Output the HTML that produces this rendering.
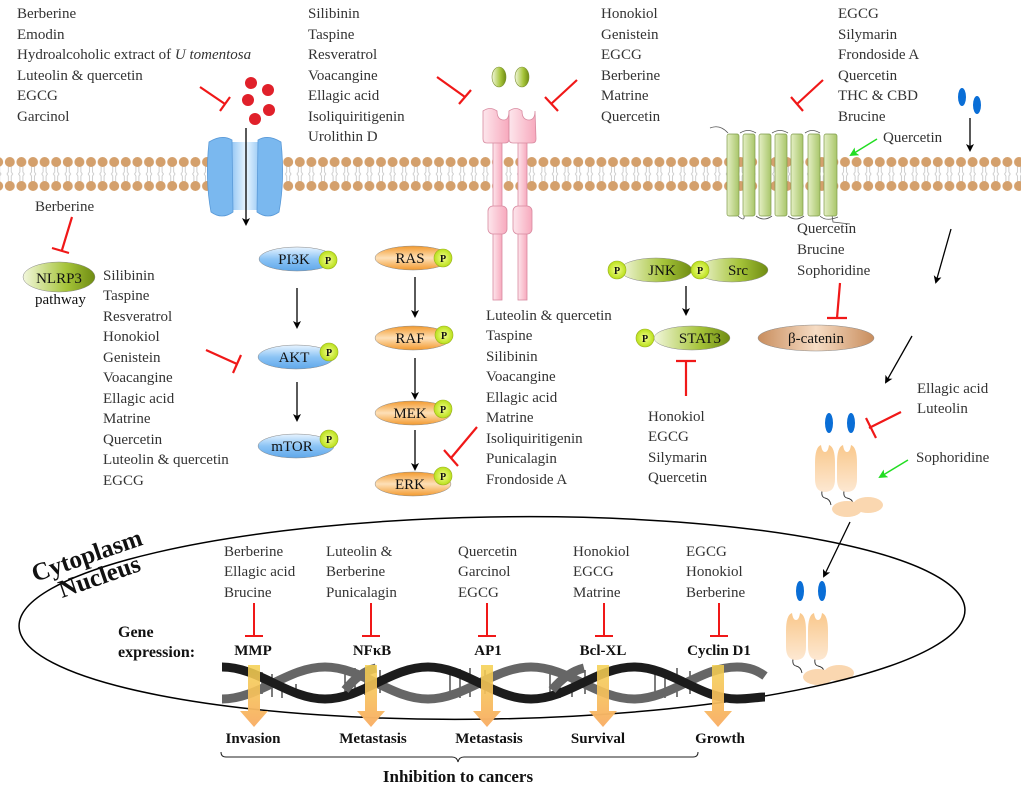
<!DOCTYPE html>
<html><head><meta charset="utf-8"><style>
html,body{margin:0;padding:0;background:#fff;}
svg{display:block;}
.t{font-family:"Liberation Serif",serif;font-size:15px;fill:#333;}
.b{font-family:"Liberation Serif",serif;font-weight:bold;fill:#111;}
.lab{font-family:"Liberation Serif",serif;font-size:15px;fill:#111;}
.p{font-family:"Liberation Serif",serif;font-size:10px;fill:#111;font-weight:bold;}
</style></head><body>
<svg width="1021" height="791" viewBox="0 0 1021 791" xmlns="http://www.w3.org/2000/svg">
<defs>
<pattern id="mem" x="4" y="150" width="11.6" height="46" patternUnits="userSpaceOnUse">
  <path d="M4.3 14 L4.3 22 L3 24 L4.3 26 L4.3 32 M7.3 14 L7.3 22 L8.6 24 L7.3 26 L7.3 32" stroke="#c9c9c9" stroke-width="0.9" fill="none"/>
  <circle cx="5.8" cy="12" r="5" fill="#d4a06c"/>
  <circle cx="5.8" cy="36" r="5" fill="#d4a06c"/>
</pattern>
<linearGradient id="blue" x1="0" x2="0" y1="0" y2="1"><stop offset="0" stop-color="#e8f4ff"/><stop offset="0.5" stop-color="#8cc4f5"/><stop offset="1" stop-color="#5fa7ea"/></linearGradient>
<linearGradient id="chan" x1="0" x2="1"><stop offset="0" stop-color="#6fb2ef"/><stop offset="0.5" stop-color="#e8f5ff"/><stop offset="1" stop-color="#6fb2ef"/></linearGradient>
<linearGradient id="orange" x1="0" x2="0" y1="0" y2="1"><stop offset="0" stop-color="#f39a2e"/><stop offset="0.5" stop-color="#fde0b8"/><stop offset="1" stop-color="#f39a2e"/></linearGradient>
<linearGradient id="green" x1="0" x2="1"><stop offset="0" stop-color="#f2f7dc"/><stop offset="0.6" stop-color="#a6c43a"/><stop offset="1" stop-color="#6f8c12"/></linearGradient>
<radialGradient id="pg"><stop offset="0" stop-color="#f5ff90"/><stop offset="1" stop-color="#b9e01a"/></radialGradient>
<linearGradient id="brown" x1="0" x2="1"><stop offset="0" stop-color="#c88d5d"/><stop offset="0.5" stop-color="#f6dcc4"/><stop offset="1" stop-color="#c88d5d"/></linearGradient>
<linearGradient id="pink" x1="0" x2="1"><stop offset="0" stop-color="#fde6ec"/><stop offset="1" stop-color="#f7a9bd"/></linearGradient>
<linearGradient id="cyl" x1="0" x2="1"><stop offset="0" stop-color="#e4efc4"/><stop offset="1" stop-color="#a9c66a"/></linearGradient>
<linearGradient id="tan" x1="0" x2="0" y1="0" y2="1"><stop offset="0" stop-color="#f9c88c"/><stop offset="1" stop-color="#fde8d2"/></linearGradient>
<linearGradient id="yarr" x1="0" x2="0" y1="0" y2="1"><stop offset="0" stop-color="#f4d04f" stop-opacity="0.85"/><stop offset="1" stop-color="#f9b06a"/></linearGradient>
<marker id="ah" markerWidth="8" markerHeight="8" refX="6" refY="4" orient="auto" markerUnits="userSpaceOnUse"><path d="M0 0 L8 4 L0 8 L2 4z" fill="#000"/></marker>
<marker id="ag" markerWidth="9" markerHeight="9" refX="7" refY="4.5" orient="auto" markerUnits="userSpaceOnUse"><path d="M0 0 L9 4.5 L0 9 L2 4.5z" fill="#22dd22"/></marker>
<g id="rcp">
  <path d="M7 46 Q6 52 10 53 Q15 54 16 60 M29 46 Q28 52 32 53 Q37 54 38 58" stroke="#333" stroke-width="0.9" fill="none"/>
  <path d="M0 18 Q0 2 6 0 Q7 7 10 7 Q13 7 14 0 Q20 2 20 18 L20 34 Q20 47 10 47 Q0 47 0 34z" fill="url(#tan)"/>
  <path d="M22 18 Q22 2 28 0 Q29 7 32 7 Q35 7 36 0 Q42 2 42 18 L42 34 Q42 47 32 47 Q22 47 22 34z" fill="url(#tan)"/>
  <ellipse cx="53" cy="60" rx="15" ry="8" fill="#fad7b0"/>
  <ellipse cx="32" cy="64" rx="15" ry="8" fill="#fad7b0"/>
  <ellipse cx="14" cy="-22" rx="4" ry="10" fill="#0a6ed6"/>
  <ellipse cx="36" cy="-22" rx="4" ry="10" fill="#0a6ed6"/>
</g>
</defs>

<rect x="0" y="150" width="1021" height="46" fill="url(#mem)"/>

<g class="t">
<text x="17" y="18">Berberine</text><text x="17" y="39">Emodin</text>
<text x="17" y="59">Hydroalcoholic extract of <tspan font-style="italic">U tomentosa</tspan></text>
<text x="17" y="80">Luteolin &amp; quercetin</text><text x="17" y="100">EGCG</text><text x="17" y="121">Garcinol</text>
<text x="308" y="18">Silibinin</text><text x="308" y="39">Taspine</text><text x="308" y="59">Resveratrol</text><text x="308" y="80">Voacangine</text><text x="308" y="100">Ellagic acid</text><text x="308" y="121">Isoliquiritigenin</text><text x="308" y="141">Urolithin D</text>
<text x="601" y="18">Honokiol</text><text x="601" y="39">Genistein</text><text x="601" y="59">EGCG</text><text x="601" y="80">Berberine</text><text x="601" y="100">Matrine</text><text x="601" y="121">Quercetin</text>
<text x="838" y="18">EGCG</text><text x="838" y="39">Silymarin</text><text x="838" y="59">Frondoside A</text><text x="838" y="80">Quercetin</text><text x="838" y="100">THC &amp; CBD</text><text x="838" y="121">Brucine</text>
<text x="883" y="142">Quercetin</text>
<text x="35" y="211">Berberine</text>
<text x="103" y="280">Silibinin</text><text x="103" y="300">Taspine</text><text x="103" y="321">Resveratrol</text><text x="103" y="341">Honokiol</text><text x="103" y="362">Genistein</text><text x="103" y="382">Voacangine</text><text x="103" y="403">Ellagic acid</text><text x="103" y="423">Matrine</text><text x="103" y="444">Quercetin</text><text x="103" y="464">Luteolin &amp; quercetin</text><text x="103" y="485">EGCG</text>
<text x="486" y="320">Luteolin &amp; quercetin</text><text x="486" y="340">Taspine</text><text x="486" y="361">Silibinin</text><text x="486" y="381">Voacangine</text><text x="486" y="402">Ellagic acid</text><text x="486" y="422">Matrine</text><text x="486" y="443">Isoliquiritigenin</text><text x="486" y="463">Punicalagin</text><text x="486" y="484">Frondoside A</text>
<text x="797" y="233">Quercetin</text><text x="797" y="254">Brucine</text><text x="797" y="275">Sophoridine</text>
<text x="648" y="421">Honokiol</text><text x="648" y="441">EGCG</text><text x="648" y="462">Silymarin</text><text x="648" y="482">Quercetin</text>
<text x="917" y="393">Ellagic acid</text><text x="917" y="413">Luteolin</text>
<text x="916" y="462">Sophoridine</text>
</g>

<g fill="#e0202a"><circle cx="251" cy="83" r="6"/><circle cx="268" cy="90" r="6"/><circle cx="248" cy="100" r="6"/><circle cx="269" cy="110" r="6"/><circle cx="255" cy="119" r="6"/></g>

<rect x="225" y="142" width="42" height="68" fill="url(#chan)"/>
<path d="M209 142 Q222 134 232 140 L233 212 Q222 220 211 212 Q205 180 209 142z" fill="#7ab8ef" stroke="#5a9ad8" stroke-width="0.8"/>
<path d="M258 140 Q268 134 281 142 Q285 180 279 212 Q268 220 257 212z" fill="#7ab8ef" stroke="#5a9ad8" stroke-width="0.8"/>
<line x1="246" y1="128" x2="246" y2="224" stroke="#000" stroke-width="1.3" marker-end="url(#ah)"/>

<g fill="url(#pink)" stroke="#d88aa0" stroke-width="0.8">
<rect x="493" y="140" width="9" height="160"/><rect x="518" y="140" width="9" height="160"/>
<rect x="488" y="206" width="19" height="28" rx="5"/><rect x="513" y="206" width="19" height="28" rx="5"/>
<path d="M483 111 Q490 106 497 111 Q497 120 504 120 Q509 120 509 111 L509 139 Q509 143 505 143 L487 143 Q483 143 483 139z"/>
<path d="M509 111 Q516 106 522 111 Q522 120 529 120 Q535 120 535 111 L536 139 Q536 143 532 143 L513 143 Q509 143 509 139z"/>
</g>
<ellipse cx="499" cy="77" rx="7" ry="10" fill="url(#green)" stroke="#7a8f30" stroke-width="0.6"/>
<ellipse cx="522" cy="77" rx="7" ry="10" fill="url(#green)" stroke="#7a8f30" stroke-width="0.6"/>

<path d="M710 128 Q720 124 728 133" stroke="#555" fill="none" stroke-width="0.8"/>
<path d="M740 133 Q748 128 756 133 M772 133 Q780 128 788 133 M805 133 Q812 128 820 133 M738 216 Q745 222 744 216 M756 216 Q764 222 772 216 M788 216 Q796 222 804 216 M820 216 Q826 222 838 217" stroke="#555" fill="none" stroke-width="0.8"/>
<path d="M832 215 L833 222 L850 224" stroke="#555" fill="none" stroke-width="0.8"/>
<g fill="url(#cyl)" stroke="#7e9a4a" stroke-width="0.7">
<rect x="727" y="134" width="12" height="82" rx="2"/><rect x="743" y="134" width="12" height="82" rx="2"/><rect x="759" y="134" width="12" height="82" rx="2"/><rect x="775" y="134" width="12" height="82" rx="2"/><rect x="791" y="134" width="12" height="82" rx="2"/><rect x="808" y="134" width="12" height="82" rx="2"/><rect x="824" y="134" width="13" height="82" rx="2"/>
</g>
<line x1="877" y1="139" x2="851" y2="155" stroke="#22dd22" stroke-width="1.5" marker-end="url(#ag)"/>

<ellipse cx="962" cy="97" rx="4" ry="9" fill="#0a6ed6"/><ellipse cx="977" cy="105" rx="4" ry="9" fill="#0a6ed6"/>
<line x1="970" y1="118" x2="970" y2="150" stroke="#000" stroke-width="1.3" marker-end="url(#ah)"/>

<g stroke="#f01818" stroke-width="2.2" fill="none">
<path d="M200 87 L225 104 M220 111 L230 97"/>
<path d="M437 77 L465 97 M459 104 L471 90"/>
<path d="M577 80 L551 104 M545 97 L558 111"/>
<path d="M823 80 L797 104 M791 97 L803 111"/>
<path d="M72 217 L62 250 M52 248 L69 253"/>
<path d="M206 350 L237 364 M233 373 L241 355"/>
<path d="M477 427 L451 458 M444 450 L458 466"/>
<path d="M686 396 L686 361 M676 361 L696 361"/>
<path d="M840 283 L837 318 M827 318 L847 318"/>
<path d="M901 412 L869 428 M866 418 L876 438"/>
</g>

<ellipse cx="59" cy="277" rx="36" ry="15" fill="url(#green)" stroke="#888" stroke-width="0.5"/>
<text x="59" y="283" class="lab" text-anchor="middle" font-size="16">NLRP3</text>
<text x="35" y="304" class="lab" font-size="16">pathway</text>

<g stroke="#888" stroke-width="0.5">
<ellipse cx="297" cy="259" rx="38" ry="12" fill="url(#blue)"/><ellipse cx="296" cy="357" rx="38" ry="12" fill="url(#blue)"/><ellipse cx="296" cy="446" rx="38" ry="12" fill="url(#blue)"/>
<ellipse cx="413" cy="258" rx="38" ry="12" fill="url(#orange)"/><ellipse cx="413" cy="338" rx="38" ry="12" fill="url(#orange)"/><ellipse cx="413" cy="413" rx="38" ry="12" fill="url(#orange)"/><ellipse cx="413" cy="484" rx="38" ry="12" fill="url(#orange)"/>
<ellipse cx="656" cy="270" rx="36" ry="12" fill="url(#green)"/><ellipse cx="732" cy="270" rx="36" ry="12" fill="url(#green)"/><ellipse cx="692" cy="338" rx="38" ry="12" fill="url(#green)"/>
<ellipse cx="816" cy="338" rx="58" ry="13" fill="url(#brown)"/>
</g>
<g class="lab" text-anchor="middle">
<text x="294" y="264">PI3K</text><text x="294" y="362">AKT</text><text x="292" y="451">mTOR</text>
<text x="410" y="263">RAS</text><text x="410" y="343">RAF</text><text x="410" y="418">MEK</text><text x="410" y="489">ERK</text>
<text x="662" y="275">JNK</text><text x="738" y="275">Src</text><text x="700" y="343">STAT3</text>
<text x="816" y="343">β-catenin</text>
</g>
<g fill="url(#pg)" stroke="#9ab020" stroke-width="0.6">
<circle cx="328" cy="260" r="9"/><circle cx="329" cy="352" r="9"/><circle cx="329" cy="439" r="9"/>
<circle cx="443" cy="258" r="9"/><circle cx="444" cy="335" r="9"/><circle cx="443" cy="409" r="9"/><circle cx="443" cy="476" r="9"/>
<circle cx="617" cy="270" r="9"/><circle cx="700" cy="270" r="9"/><circle cx="645" cy="338" r="9"/>
</g>
<g class="p" text-anchor="middle">
<text x="328" y="264">P</text><text x="329" y="356">P</text><text x="329" y="443">P</text>
<text x="443" y="262">P</text><text x="444" y="339">P</text><text x="443" y="413">P</text><text x="443" y="480">P</text>
<text x="617" y="274">P</text><text x="700" y="274">P</text><text x="645" y="342">P</text>
</g>
<g stroke="#000" stroke-width="1.3" marker-end="url(#ah)">
<line x1="297" y1="288" x2="297" y2="327"/><line x1="297" y1="382" x2="297" y2="420"/>
<line x1="415" y1="277" x2="415" y2="316"/><line x1="415" y1="358" x2="415" y2="398"/><line x1="415" y1="430" x2="415" y2="469"/>
<line x1="686" y1="286" x2="686" y2="314"/>
<line x1="951" y1="229" x2="936" y2="282"/><line x1="912" y1="336" x2="886" y2="382"/><line x1="850" y1="522" x2="824" y2="576"/>
</g>

<use href="#rcp" x="815" y="445"/>
<line x1="908" y1="460" x2="880" y2="477" stroke="#22dd22" stroke-width="1.5" marker-end="url(#ag)"/>
<use href="#rcp" x="786" y="613"/>

<ellipse cx="492" cy="618" rx="473" ry="101" fill="none" stroke="#000" stroke-width="1.5" transform="rotate(-1 492 618)"/>
<text class="b" font-size="25" transform="translate(35 582) rotate(-19)">Cytoplasm</text>
<text class="b" font-size="25" transform="translate(62 598) rotate(-19)">Nucleus</text>
<text class="b" font-size="16" x="118" y="637">Gene</text>
<text class="b" font-size="16" x="118" y="657">expression:</text>

<g class="t">
<text x="224" y="556">Berberine</text><text x="224" y="576">Ellagic acid</text><text x="224" y="597">Brucine</text>
<text x="326" y="556">Luteolin &amp;</text><text x="326" y="576">Berberine</text><text x="326" y="597">Punicalagin</text>
<text x="458" y="556">Quercetin</text><text x="458" y="576">Garcinol</text><text x="458" y="597">EGCG</text>
<text x="573" y="556">Honokiol</text><text x="573" y="576">EGCG</text><text x="573" y="597">Matrine</text>
<text x="686" y="556">EGCG</text><text x="686" y="576">Honokiol</text><text x="686" y="597">Berberine</text>
</g>
<g stroke="#f01818" stroke-width="2" fill="none">
<path d="M254 603 L254 636 M245 636 L263 636"/><path d="M371 603 L371 636 M362 636 L380 636"/><path d="M487 603 L487 636 M478 636 L496 636"/><path d="M604 603 L604 636 M595 636 L613 636"/><path d="M719 603 L719 636 M710 636 L728 636"/>
</g>
<g class="b" font-size="15" text-anchor="middle">
<text x="253" y="655">MMP</text><text x="372" y="655">NFκB</text><text x="488" y="655">AP1</text><text x="603" y="655">Bcl-XL</text><text x="719" y="655">Cyclin D1</text>
</g>

<!-- DNA -->
<g stroke="#444" stroke-width="1.4">
<path d="M262 672 V694 M272 674 V697 M282 678 V698 M296 684 V696 M345 670 V696 M355 668 V697 M365 668 V695 M380 670 V693 M450 672 V696 M460 669 V698 M470 668 V697 M485 670 V694 M550 672 V696 M560 670 V698 M572 668 V697 M585 670 V694 M655 672 V696 M665 670 V698 M677 668 V697 M690 671 V694"/>
</g>
<path d="M222 699 C259 699 288 667 325 667 C362 667 391 699 428 699 C465 699 494 667 531 667 C568 667 597 699 634 699 C671 699 700 667 737 667 C750 667 758 671 765 676" stroke="#666" stroke-width="9" fill="none"/>
<path d="M222 667 C259 667 288 699 325 699 C362 699 391 667 428 667 C465 667 494 699 531 699 C568 699 597 667 634 667 C671 667 700 699 737 699 C750 699 758 697 765 697" stroke="#1c1c1c" stroke-width="9" fill="none"/>
<path d="M345 690 C355 678 364 671 376 668 M552 690 C562 678 572 671 584 668" stroke="#666" stroke-width="9" fill="none"/>

<g fill="url(#yarr)">
<path d="M248 665 h12 v46 h8 l-14 16 l-14 -16 h8z"/>
<path d="M365 665 h12 v46 h8 l-14 16 l-14 -16 h8z"/>
<path d="M481 665 h12 v46 h8 l-14 16 l-14 -16 h8z"/>
<path d="M597 665 h12 v46 h8 l-14 16 l-14 -16 h8z"/>
<path d="M712 665 h12 v46 h8 l-14 16 l-14 -16 h8z"/>
</g>
<g class="b" font-size="15" text-anchor="middle">
<text x="253" y="743">Invasion</text><text x="373" y="743">Metastasis</text><text x="489" y="743">Metastasis</text><text x="598" y="743">Survival</text><text x="720" y="743">Growth</text>
</g>
<path d="M221 752 Q221 757 226 757 L452 757 Q457 757 458 762 Q459 757 464 757 L693 757 Q698 757 698 752" stroke="#222" stroke-width="1" fill="none"/>
<text class="b" font-size="17" x="458" y="782" text-anchor="middle">Inhibition to cancers</text>
</svg>
</body></html>
